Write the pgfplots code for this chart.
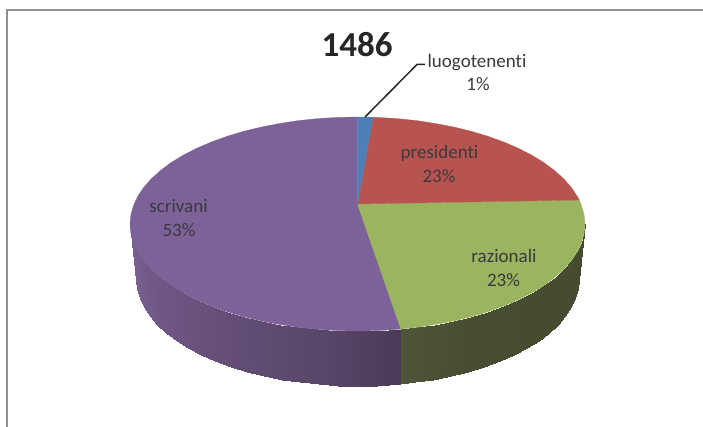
\documentclass[border=0pt]{standalone}
\usepackage{pgfplots}
\pgfplotsset{compat=1.18}
\usepackage{fontspec}
\setmainfont{Carlito}[Ligatures=CommonOff]
\definecolor{cblue}{RGB}{78,127,183}
\definecolor{cred}{RGB}{184,84,80}
\definecolor{cgreen}{RGB}{155,180,95}
\definecolor{cpurple}{RGB}{125,98,153}
\definecolor{frameg}{RGB}{144,144,144}
\definecolor{lab}{RGB}{60,56,62}
\pgfplotsset{
 colormap={sidepurple}{rgb255(0cm)=(76,58,88) rgb255(7.9cm)=(76,58,88) rgb255(10cm)=(90,70,106) rgb255(13cm)=(102,80,122) rgb255(18cm)=(122,97,148)},
 colormap={sidegreen}{rgb255(0cm)=(69,75,48) rgb255(6cm)=(71,77,50) rgb255(7.9cm)=(79,85,56) rgb255(18cm)=(79,85,56)},
}
\begin{document}
\begin{tikzpicture}
\path[use as bounding box] (0,0) rectangle (703pt,427pt);
\begin{axis}[at={(0,0)},anchor=south west,scale only axis,width=703pt,height=427pt,
  xmin=0,xmax=703,ymin=0,ymax=427,y dir=reverse,hide axis,clip=false,
  point meta min=90,point meta max=270]
% frame
\addplot[frameg,line width=2pt] coordinates {(6.8,427) (6.8,10.5) (703,10.5)};
% side: green
\addplot[surf,shader=interp,colormap name=sidegreen,mesh/rows=2,point meta=explicit] table[meta=t] {
x y t
585 224 90
584.1 233.3 95
581.5 242.6 100
577.2 251.7 105
571.3 260.6 110
563.7 269.2 115
554.5 277.5 120
543.9 285.4 125
531.8 292.8 130
518.4 299.7 135
503.7 306 140
488 311.7 145
471.25 316.7 150
453.6 321 155
435.3 324.5 160
416.4 327.4 165
400.9 329 169
578.5 280 90
577.7 289.2 95
575.1 298.4 100
571 307.4 105
565.2 316.3 110
557.8 324.8 115
548.9 333 120
538.5 340.8 125
526.8 348.1 130
513.8 355 135
499.6 361.2 140
484.3 366.8 145
468 371.8 150
450.9 376.1 155
433.1 379.6 160
414.7 382.4 165
399.7 384 169
};
% side: purple
\addplot[surf,shader=interp,colormap name=sidepurple,mesh/rows=2,point meta=explicit] table[meta=t] {
x y t
400.9 329 169
377.3 330.6 175
357.5 331 180
337.7 330.6 185
318 329.4 190
298.6 327.4 195
279.7 324.5 200
261.4 321 205
243.75 316.7 210
227 311.7 215
211.3 306 220
196.6 299.7 225
183.2 292.8 230
171.1 285.4 235
160.5 277.5 240
151.3 269.2 245
143.7 260.6 250
137.8 251.7 255
133.5 242.6 260
130.9 233.3 265
130 224 270
399.7 384 169
376.8 385.6 175
357.5 386 180
338.2 385.6 185
319.1 384.4 190
300.3 382.4 195
281.9 379.6 200
264.1 376.1 205
247 371.8 210
230.7 366.8 215
215.4 361.2 220
201.2 355 225
188.2 348.1 230
176.5 340.8 235
166.1 333 240
157.2 324.8 245
149.8 316.3 250
144 307.4 255
139.9 298.4 260
137.3 289.2 265
136.5 280 270
};
% top faces
\addplot[fill=cpurple,draw=cpurple,line width=0.3pt] coordinates {
(357.5,204) (400.9,329) (397,329.4) (377.3,330.6) (357.5,331) (337.7,330.6) (318,329.4) (298.6,327.4)
(279.7,324.5) (261.4,321) (243.75,316.7) (227,311.7) (211.3,306) (196.6,299.7) (183.2,292.8) (171.1,285.4)
(160.5,277.5) (151.3,269.2) (143.7,260.6) (137.8,251.7) (133.5,242.6) (130.9,233.3) (130,224) (130.9,214.7)
(133.5,205.4) (137.8,196.3) (143.7,187.4) (151.3,178.8) (160.5,170.5) (171.1,162.6) (183.2,155.2) (196.6,148.3)
(211.3,142) (227,136.3) (243.75,131.3) (261.4,127) (279.7,123.5) (298.6,120.6) (318,118.6) (337.7,117.4)
(357.5,117) (357.5,204)};
\addplot[fill=cgreen,draw=cgreen,line width=0.3pt] coordinates {
(357.5,204) (579.3,200) (581.5,205.4) (584.1,214.7) (585,224) (584.1,233.3) (581.5,242.6) (577.2,251.7)
(571.3,260.6) (563.7,269.2) (554.5,277.5) (543.9,285.4) (531.8,292.8) (518.4,299.7) (503.7,306) (488,311.7)
(471.25,316.7) (453.6,321) (435.3,324.5) (416.4,327.4) (400.9,329) (357.5,204)};
\addplot[fill=cred,draw=cred,line width=0.3pt] coordinates {
(357.5,204) (373,117.2) (377.3,117.4) (397,118.6) (416.4,120.6) (435.3,123.5) (453.6,127) (471.25,131.3)
(488,136.3) (503.7,142) (518.4,148.3) (531.8,155.2) (543.9,162.6) (554.5,170.5) (563.7,178.8) (571.3,187.4)
(577.2,196.3) (579.3,200) (357.5,204)};
\addplot[fill=cblue,draw=cblue,line width=0.3pt] coordinates {
(357.5,204) (357.5,117) (373,117.2) (357.5,204)};
% leader
\addplot[color=black!85,line width=1.5pt] coordinates {(365,117) (417,64.5) (425,64.5)};
% text
\node[anchor=base,text=black!85,font=\fontsize{35}{38}\selectfont\bfseries] at (axis cs:357,57) {1486};
\node[anchor=base,text=lab,font=\fontsize{19}{22}\selectfont] at (axis cs:477,68) {luogotenenti};
\node[anchor=base,text=lab,font=\fontsize{19}{22}\selectfont] at (axis cs:478,91) {1\%};
\node[anchor=base,text=lab,font=\fontsize{19}{22}\selectfont] at (axis cs:439.5,159) {presidenti};
\node[anchor=base,text=lab,font=\fontsize{19}{22}\selectfont] at (axis cs:439,183) {23\%};
\node[anchor=base,text=lab,font=\fontsize{19}{22}\selectfont] at (axis cs:504,263) {razionali};
\node[anchor=base,text=lab,font=\fontsize{19}{22}\selectfont] at (axis cs:503.5,287) {23\%};
\node[anchor=base,text=lab,font=\fontsize{19}{22}\selectfont] at (axis cs:178.5,213) {scrivani};
\node[anchor=base,text=lab,font=\fontsize{19}{22}\selectfont] at (axis cs:179,237) {53\%};
\end{axis}
\end{tikzpicture}
\end{document}
